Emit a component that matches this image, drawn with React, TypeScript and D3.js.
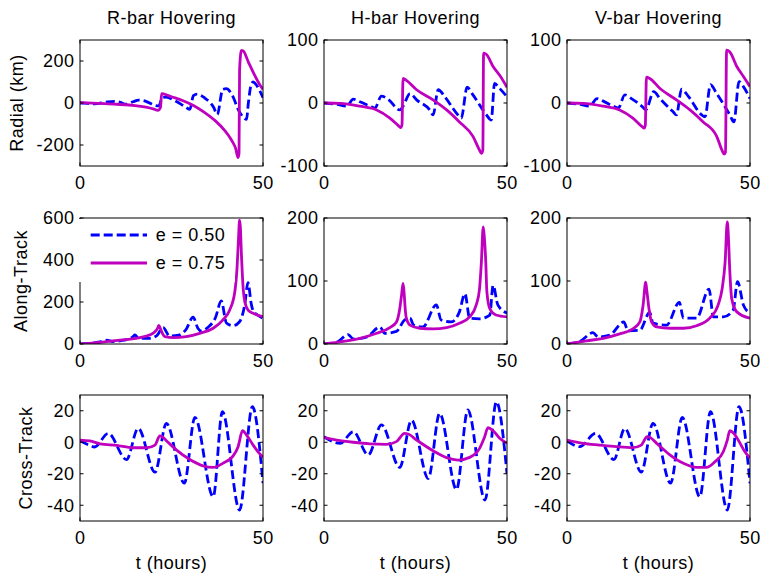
import React from 'react';
import * as d3 from 'd3';

type Pt = [number, number];

// Panel labels and ticks
const columnTitles = ['R-bar Hovering', 'H-bar Hovering', 'V-bar Hovering'];
const rowLabels = ['Radial (km)', 'Along-Track', 'Cross-Track'];
const seriesNames = ['e = 0.50', 'e = 0.75'];
const xLabel = 't (hours)';
const timeDomain: [number, number] = [0, 50];
const timeTicks = [0, 50];
const radialDomainR: [number, number] = [-300, 300];
const radialDomainHV: [number, number] = [-100, 100];
const radialTicksR = [-200, 0, 200];
const radialTicksHV = [-100, 0, 100];
const alongDomainR: [number, number] = [0, 600];
const alongDomainHV: [number, number] = [0, 200];
const alongTicksR = [0, 200, 400, 600];
const alongTicksHV = [0, 100, 200];
const crossDomain: [number, number] = [-50, 30];
const crossTicks = [-40, -20, 0, 20];

// Radial offset (km) vs time (hours)
const radialR50: Pt[] = [[0, 0], [2, -2], [4, -4], [7, 4], [9.5, 8], [11, 3], [12.5, -6], [14.5, 6], [16, 14], [18, 8], [20.5, -12], [21.5, -14], [22.5, 25], [23.5, 28], [26, 10], [28.5, -15], [30, -30], [31, 35], [32, 42], [34, 25], [36.5, -20], [37.5, -55], [39, 65], [40, 68], [41.5, 40], [43.5, -40], [45.5, -78], [46, 0], [46.8, 90], [47.3, 100], [48.5, 78], [50, 25]];
const radialR75: Pt[] = [[0, 2], [5, -2], [10, -6], [15, -12], [18, -20], [20, -28], [21.3, -35], [22, -20], [22.3, 45], [23, 42], [25, 30], [28, 12], [31, -12], [34, -45], [37, -85], [39.5, -130], [41.5, -180], [42.5, -215], [43.2, -260], [43.45, -240], [43.6, 157], [44.1, 250], [44.6, 248], [46, 195], [47.5, 140], [49, 90], [50, 65]];
const radialH50: Pt[] = [[0, 0], [3.5, -2], [6.2, -5], [8, 6], [9.8, 2], [12.5, -5], [13.9, -8], [15.7, 11], [17.5, 6], [20.7, -11], [21.6, -5], [23.5, 15], [25.3, 5], [28.9, -11], [29.8, -19], [31.2, 21], [33, 10], [36.6, -19], [37.5, -24], [39.1, 25], [40.7, 13], [44.4, -19], [45.7, -27], [46.6, 31], [48, 23], [50, 10]];
const radialH75: Pt[] = [[0, 0], [4.4, -0.5], [9.8, -5], [14.4, -11], [18, -24], [20.3, -36], [20.9, -39], [21.3, -35], [21.6, 39], [22.5, 36], [25.3, 21], [29.8, 5], [33.5, -11], [37, -30], [40.7, -53], [42.5, -75], [43, -80], [43.4, -75], [43.6, 79], [44.4, 77], [46.2, 58], [48, 44], [50, 25]];
const radialV50: Pt[] = [[0, 0], [3.5, -2], [6.2, -5], [8.2, 7], [9.9, 3], [12.6, -5], [14, -8], [15.8, 13], [17.6, 7], [20.8, -7], [21.5, -11], [23.7, 18], [25.4, 7], [29, -14], [29.9, -19], [31.3, 22], [33.1, 11], [36.8, -19], [37.7, -22], [39.2, 29], [40.9, 15], [44.5, -19], [45.6, -30], [47, 34], [48.2, 26], [50, 7]];
const radialV75: Pt[] = [[0, 0], [4.4, -0.5], [9.9, -5], [14.4, -11], [18, -24], [20.6, -38], [21.1, -40], [21.4, -35], [21.7, 41], [22.6, 39], [25.4, 23], [29.9, 5], [33.6, -11], [37.2, -30], [40.9, -53], [42.5, -77], [42.9, -81], [43.3, -78], [43.6, 84], [44.5, 81], [46.4, 58], [48.2, 42], [50, 26]];

// Along-track offset vs time
const alongR50: Pt[] = [[0, 0], [5.5, 10], [7.3, 18], [9, 12], [12, 18], [14.5, 35], [15, 43], [16, 28], [19, 27], [21, 40], [22.7, 78], [24.5, 38], [27, 42], [29, 70], [30.9, 128], [32.2, 75], [33, 62], [35, 80], [37, 125], [38.6, 205], [40, 100], [41.8, 87], [43.6, 106], [45, 186], [45.9, 292], [46.8, 190], [47.3, 158], [48.5, 138], [50, 122]];
const alongR75: Pt[] = [[0, 0], [5.5, 8], [11, 18], [16.4, 30], [19, 43], [20.5, 59], [21.2, 75], [21.5, 88], [21.8, 80], [22.3, 59], [23.2, 35], [25.5, 30], [29, 35], [32.7, 51], [36.4, 75], [39, 114], [40.9, 162], [42.3, 249], [42.9, 360], [43.3, 500], [43.6, 590], [43.8, 560], [44.1, 429], [44.6, 260], [45.2, 190], [46, 160], [47.3, 146], [50, 130]];
const alongH50: Pt[] = [[0, 0], [3.5, 3], [6.6, 15], [8, 8], [11.6, 11], [15.3, 27], [16.6, 17], [19.8, 20], [22, 38], [23.5, 41], [24.5, 30], [27, 27], [30.7, 62], [32, 38], [34.8, 35], [37, 51], [38.5, 80], [39.8, 41], [42.5, 40], [45.3, 46], [46.2, 93], [47.5, 62], [50, 49]];
const alongH75: Pt[] = [[0, 0], [5.3, 4], [9.8, 9], [14.4, 17], [18, 26], [19.8, 35], [20.7, 56], [21.2, 78], [21.6, 96], [21.9, 80], [22.2, 55], [22.5, 41], [23.5, 30], [26.2, 25], [29.8, 24], [33.5, 26], [37, 33], [39.8, 43], [41.6, 62], [42.5, 88], [43, 130], [43.5, 186], [43.8, 170], [44.2, 130], [44.5, 83], [45.3, 56], [47, 46], [50, 43]];
const alongV50: Pt[] = [[0, 0], [3.5, 4], [7.1, 18], [8.5, 11], [11.7, 14], [15.5, 35], [16.7, 21], [19.9, 22], [22.6, 50], [23.5, 33], [27.2, 30], [30.7, 66], [31.8, 41], [35.4, 41], [38.8, 87], [40, 43], [42.7, 43], [45.4, 54], [46.6, 99], [48.2, 62], [50, 49]];
const alongV75: Pt[] = [[0, 0], [5.3, 5], [9.9, 9], [14.4, 16], [18, 24], [19.9, 35], [20.8, 62], [21.5, 98], [21.8, 85], [22.4, 56], [23.1, 35], [24.5, 27], [28.1, 25], [31.8, 25], [35.4, 29], [39, 41], [41.3, 62], [42.4, 88], [43.2, 130], [43.8, 194], [44.1, 170], [44.5, 114], [45, 72], [46.4, 51], [50, 41]];

// Cross-track offset vs time
const crossR50: Pt[] = [[0, 1], [2.7, -2], [4, -3], [7.7, 5.6], [12.7, -11], [15.9, 8.8], [20.5, -19], [23.6, 12], [28.5, -26], [31.4, 15.8], [36.4, -34.6], [38.9, 19.4], [43.6, -43], [47.1, 22.6], [50, -26]];
const crossR75: Pt[] = [[0, 1.4], [2.7, 0.8], [5.5, -1], [10, -2], [14.5, -3.5], [18.2, -3.5], [20.5, -1.8], [21.8, 4], [22.4, 3.6], [23.6, 1], [26.4, -5], [30, -11], [33.6, -15], [36.4, -16], [39, -13.4], [41.8, -8.8], [43.2, -2.8], [44.4, 7.3], [45.5, 4.6], [47.3, -1.8], [48.6, -6], [50, -9.6]];
const crossH50: Pt[] = [[0, 3.5], [4.4, -0.7], [8, 6.7], [12.1, -8], [15.7, 11], [20.7, -16], [23.9, 14], [28.5, -23], [31.6, 18.4], [36.2, -30], [39.3, 20.5], [44, -36.7], [47.1, 25.7], [50, -20]];
const crossH75: Pt[] = [[0, 3], [3.5, 1.4], [8, 0], [12.5, -1], [17, -1.3], [19.8, 0.4], [22, 5.6], [22.8, 5.4], [25.3, 1.4], [29.8, -5.4], [33.5, -9.8], [36.6, -11.3], [39.8, -9.6], [42.5, -3.9], [43.9, 3.5], [44.8, 9.2], [46.2, 7.3], [48, 2.5], [50, -0.7]];
const crossV50: Pt[] = [[0, 1], [3.5, -2.8], [7.8, 5.6], [12.8, -11], [15.8, 8.8], [20.3, -19], [23.5, 12], [28.3, -26], [31.5, 15.8], [36.3, -34.6], [39.2, 19.4], [43.8, -43], [47, 22.6], [50, -26]];
const crossV75: Pt[] = [[0, 1.4], [4.4, -0.7], [8.9, -1.8], [13.5, -2.8], [18, -3.4], [20.3, -1.8], [21.9, 3.5], [22.6, 3.2], [24.5, -0.7], [28.1, -8], [31.8, -13.4], [35.4, -16], [38.1, -16], [40.4, -12.4], [42.7, -6], [43.8, 1.4], [44.5, 7.3], [45.6, 5.6], [47.3, -0.7], [48.6, -6], [50, -10]];

const BLUE = '#0000ff';
const MAGENTA = '#bf00bf';
const FONT = '"Liberation Sans", Arial, Helvetica, sans-serif';
const FS = 18;
const LS = 0.5;
const LW = 2.8;
const DASH = '9 4';

const colLeft = [80, 324, 567];
const rowTop = [40, 218, 395];
const plotW = 183;
const plotH = 126;
const yLabelX = [23, 27, 32];

interface PanelSpec {
  domain: [number, number];
  ticks: number[];
  e50: Pt[];
  e75: Pt[];
}

const panels: PanelSpec[][] = [
  [
    { domain: radialDomainR, ticks: radialTicksR, e50: radialR50, e75: radialR75 },
    { domain: radialDomainHV, ticks: radialTicksHV, e50: radialH50, e75: radialH75 },
    { domain: radialDomainHV, ticks: radialTicksHV, e50: radialV50, e75: radialV75 },
  ],
  [
    { domain: alongDomainR, ticks: alongTicksR, e50: alongR50, e75: alongR75 },
    { domain: alongDomainHV, ticks: alongTicksHV, e50: alongH50, e75: alongH75 },
    { domain: alongDomainHV, ticks: alongTicksHV, e50: alongV50, e75: alongV75 },
  ],
  [
    { domain: crossDomain, ticks: crossTicks, e50: crossR50, e75: crossR75 },
    { domain: crossDomain, ticks: crossTicks, e50: crossH50, e75: crossH75 },
    { domain: crossDomain, ticks: crossTicks, e50: crossV50, e75: crossV75 },
  ],
];

const textProps = { fontSize: FS, fontFamily: FONT, letterSpacing: LS, fill: '#000' };

function Panel({ spec, r, c }: { spec: PanelSpec; r: number; c: number }) {
  const x0 = colLeft[c];
  const y0 = rowTop[r];
  const x = d3.scaleLinear().domain(timeDomain).range([x0, x0 + plotW]);
  const y = d3.scaleLinear().domain(spec.domain).range([y0 + plotH, y0]);
  const line = d3
    .line<Pt>()
    .x((d) => x(d[0]))
    .y((d) => y(d[1]))
    .curve(d3.curveMonotoneX);
  const clipId = `clip-${r}-${c}`;
  const tl = 3.5;
  return (
    <g>
      <clipPath id={clipId}>
        <rect x={x0} y={y0} width={plotW} height={plotH} />
      </clipPath>
      <g clipPath={`url(#${clipId})`}>
        <path d={line(spec.e50) || ''} fill="none" stroke={BLUE} strokeWidth={LW} strokeDasharray={DASH} strokeLinejoin="round" />
        <path d={line(spec.e75) || ''} fill="none" stroke={MAGENTA} strokeWidth={LW} strokeLinejoin="round" />
      </g>
      <rect x={x0} y={y0} width={plotW} height={plotH} fill="none" stroke="#000" strokeWidth={1} />
      {spec.ticks.map((t) => (
        <g key={t}>
          <line x1={x0} x2={x0 + tl} y1={y(t)} y2={y(t)} stroke="#000" />
          <line x1={x0 + plotW - tl} x2={x0 + plotW} y1={y(t)} y2={y(t)} stroke="#000" />
          <text x={x0 - 5.5} y={y(t)} dy="0.35em" textAnchor="end" {...textProps}>
            {t}
          </text>
        </g>
      ))}
      {timeTicks.map((t) => (
        <g key={t}>
          <line x1={x(t)} x2={x(t)} y1={y0 + plotH} y2={y0 + plotH - tl} stroke="#000" />
          <line x1={x(t)} x2={x(t)} y1={y0} y2={y0 + tl} stroke="#000" />
          <text x={x(t) + LS / 2} y={y0 + plotH + 22.5} textAnchor="middle" {...textProps}>
            {t}
          </text>
        </g>
      ))}
      {r === 0 && (
        <text x={x0 + plotW / 2} y={y0 - 16} textAnchor="middle" {...textProps}>
          {columnTitles[c]}
        </text>
      )}
      {c === 0 && (
        <text
          transform={`translate(${yLabelX[r]},${y0 + plotH / 2}) rotate(-90)`}
          textAnchor="middle"
          {...textProps}
        >
          {rowLabels[r]}
        </text>
      )}
      {r === 2 && (
        <text x={x0 + plotW / 2} y={569} textAnchor="middle" {...textProps}>
          {xLabel}
        </text>
      )}
    </g>
  );
}

function Legend() {
  const lx1 = 90.7;
  const lx2 = 147;
  const rows = [
    { y: 235, color: BLUE, dash: DASH, name: seriesNames[0] },
    { y: 263, color: MAGENTA, dash: undefined, name: seriesNames[1] },
  ];
  return (
    <g>
      <rect x={76} y={219} width={159} height={63} fill="#fff" />
      {rows.map((row) => (
        <g key={row.name}>
          <line x1={lx1} x2={lx2} y1={row.y} y2={row.y} stroke={row.color} strokeWidth={LW} strokeDasharray={row.dash} />
          <text x={155.7} y={row.y} dy="0.35em" {...textProps}>
            {row.name}
          </text>
        </g>
      ))}
    </g>
  );
}

export default function App() {
  return (
    <svg
      width={761}
      height={575}
      viewBox="0 0 761 575"
      style={{ position: 'absolute', left: 0, top: 0, background: '#fff' }}
    >
      <rect x={0} y={0} width={761} height={575} fill="#fff" />
      {panels.map((row, r) => row.map((spec, c) => <Panel key={`${r}-${c}`} spec={spec} r={r} c={c} />))}
      <Legend />
    </svg>
  );
}
